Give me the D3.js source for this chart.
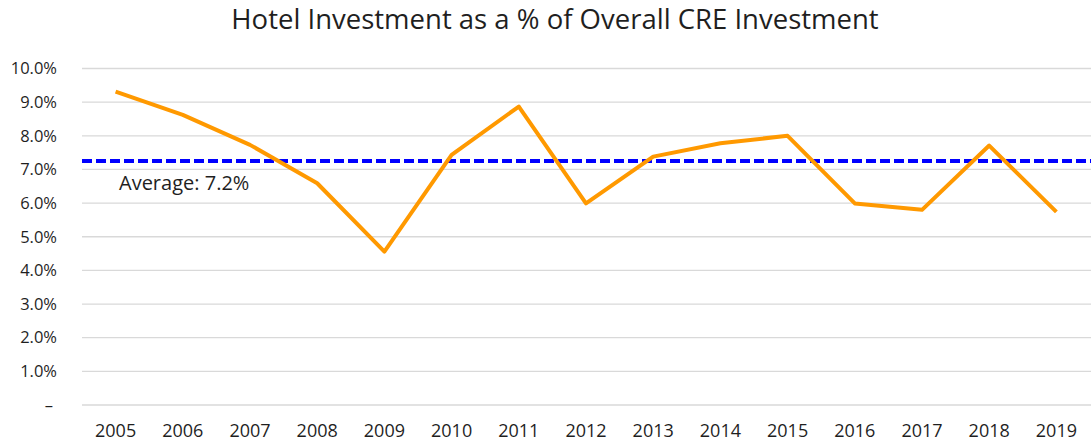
<!DOCTYPE html>
<html>
<head>
<meta charset="utf-8">
<script src="https://cdn.jsdelivr.net/npm/d3@7"></script>
<style>
  body { margin: 0; background: #fff; }
  text { font-family: "Segoe UI", "Open Sans", sans-serif; fill: #1f1f1f; }
</style>
</head>
<body>
<script>
// chart data
const years = ["2005", "2006", "2007", "2008", "2009", "2010", "2011", "2012",
  "2013", "2014", "2015", "2016", "2017", "2018", "2019"];
const hotelShare = [9.31, 8.62, 7.73, 6.59, 4.56, 7.43, 8.87, 5.99,
  7.38, 7.78, 8.0, 5.99, 5.8, 7.71, 5.74];
const averageValue = 7.25;
const averageLabel = "Average: 7.2%";
const yTicks = [0, 1, 2, 3, 4, 5, 6, 7, 8, 9, 10];
const titleText = "Hotel Investment as a % of Overall CRE Investment";

const w = 1091;
const h = 445;
const svg = d3.select("body").append("svg").attr("width", w).attr("height", h);

const x = d3.scaleBand().domain(years).range([82, 1090]);
const y = d3.scaleLinear().domain([0, 10]).range([405, 68.5]);

// title
svg.append("text")
  .attr("x", 555)
  .attr("y", 29)
  .attr("text-anchor", "middle")
  .style("font-size", "27.5px")
  .text(titleText);

// gridlines
svg.selectAll("line.grid")
  .data(yTicks)
  .enter()
  .append("line")
  .attr("class", "grid")
  .attr("x1", 82)
  .attr("x2", w)
  .attr("y1", d => y(d))
  .attr("y2", d => y(d))
  .style("stroke", "#d9d9d9")
  .style("stroke-width", 1.3);

// y axis labels
const yAxis = d3.axisLeft(y)
  .tickValues(yTicks)
  .tickSize(0)
  .tickPadding(0)
  .tickFormat(d => d === 0 ? "–" : d.toFixed(1) + "%");
const yg = svg.append("g").attr("transform", "translate(57,0)").call(yAxis);
yg.select(".domain").remove();
yg.selectAll("text")
  .style("font-size", "16.5px")
  .style("font-family", null)
  .attr("dx", d => d === 0 ? -4 : 0);

// x axis labels
const xAxis = d3.axisBottom(x).tickSize(0).tickPadding(0);
const xg = svg.append("g").attr("transform", "translate(0,424)").call(xAxis);
xg.select(".domain").remove();
xg.selectAll("text")
  .style("font-size", "18px")
  .style("font-family", null);

// average line
svg.append("line")
  .attr("x1", 82)
  .attr("x2", w)
  .attr("y1", y(averageValue))
  .attr("y2", y(averageValue))
  .style("stroke", "#0000ff")
  .style("stroke-width", 4)
  .style("stroke-dasharray", "10,4");

svg.append("text")
  .attr("x", 119)
  .attr("y", 190)
  .style("font-size", "20px")
  .text(averageLabel);

// data line
const line = d3.line()
  .x((d, i) => x(years[i]) + x.bandwidth() / 2)
  .y(d => y(d));

svg.append("path")
  .datum(hotelShare)
  .attr("d", line)
  .style("fill", "none")
  .style("stroke", "#ff9900")
  .style("stroke-width", 4)
  .style("stroke-linejoin", "round");
</script>
</body>
</html>
